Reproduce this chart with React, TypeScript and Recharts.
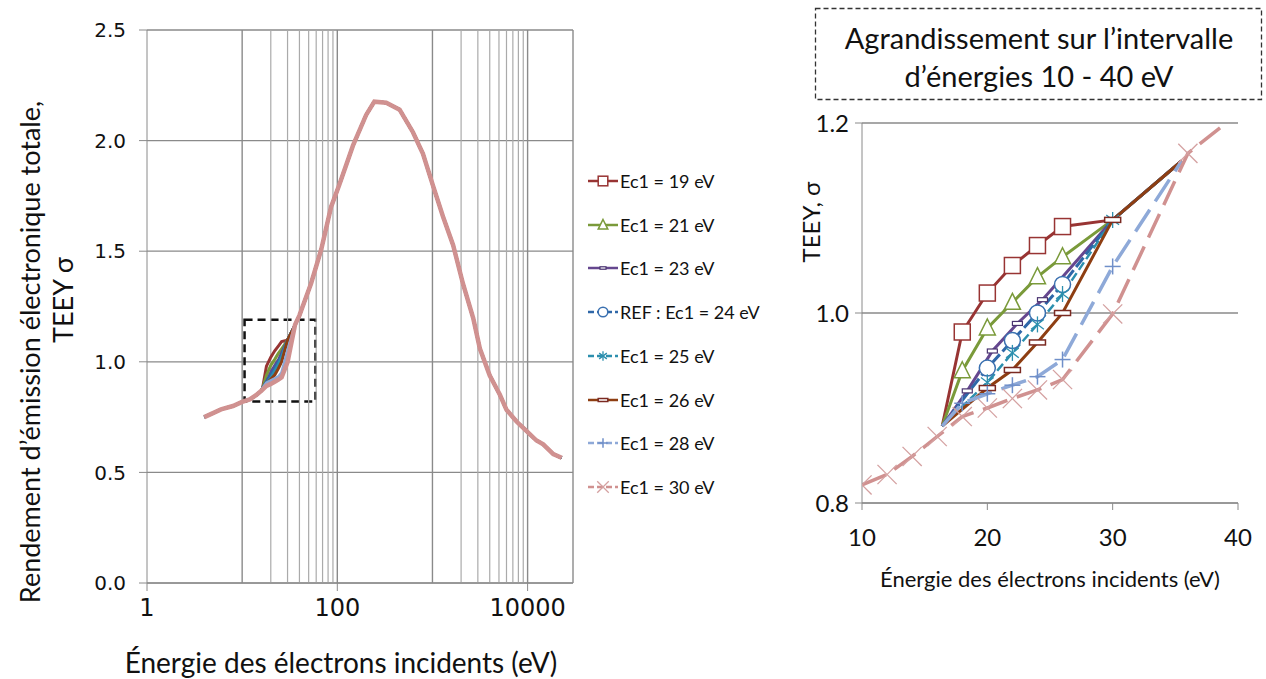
import React from "react";
import {
  LineChart,
  Line,
  XAxis,
  YAxis,
  CartesianGrid,
  ReferenceLine,
  ReferenceArea
} from "recharts";

const FONT = "Lato, 'Open Sans', sans-serif";
const TICK_FONT = "'DejaVu Sans', sans-serif";
const GRID = "#8a8a8a";

// shared curve below the divergence (eV / TEEY)
const LOW_E = [4, 6, 8];
const LOW_Y = [0.75, 0.785, 0.8];

// shared curve above the divergence
const HIGH_E = [40, 45, 53, 68, 86, 105, 146, 201, 245, 327, 452, 624, 795, 1015, 1290, 1650, 2090, 2680, 3150, 4000, 5100, 6000, 7650, 9770, 12400, 14600, 18600, 22800];
const HIGH_Y = [1.21, 1.27, 1.354, 1.51, 1.7, 1.8, 1.977, 2.116, 2.176, 2.171, 2.14, 2.038, 1.94, 1.795, 1.657, 1.527, 1.354, 1.198, 1.06, 0.938, 0.852, 0.783, 0.73, 0.687, 0.644, 0.627, 0.583, 0.566];

// points where the Ec1 curves leave / rejoin each other
const SPLIT_E = 16.4;
const JOIN_E = 35.5;

const E19 = [16.4, 18, 20, 22, 24, 26, 30, 35.5];
const Y19 = [0.881, 0.98, 1.021, 1.05, 1.071, 1.091, 1.098, 1.16];
const E21 = [16.4, 18, 20, 22, 24, 26, 30, 35.5];
const Y21 = [0.881, 0.939, 0.984, 1.011, 1.038, 1.059, 1.098, 1.16];
const E23 = [16.4, 18.4, 20.4, 22.4, 24.4, 30, 35.5];
const Y23 = [0.881, 0.918, 0.96, 0.989, 1.014, 1.098, 1.16];
const E24 = [16.4, 20, 22, 24, 26, 30, 35.5];
const Y24 = [0.881, 0.942, 0.971, 1.0, 1.03, 1.098, 1.16];
const E25 = [16.4, 20, 22, 24, 26, 30, 35.5];
const Y25 = [0.881, 0.927, 0.958, 0.988, 1.02, 1.098, 1.16];
const E26 = [16.4, 20, 22, 24, 26, 30, 35.5];
const Y26 = [0.881, 0.921, 0.94, 0.969, 1.0, 1.098, 1.16];
const E28 = [16.4, 18, 20, 22, 24, 26, 30, 35.5];
const Y28 = [0.881, 0.905, 0.915, 0.924, 0.933, 0.951, 1.049, 1.16];
const E30 = [10, 12, 14, 16, 18, 20, 22, 24, 26, 30, 36];
const Y30 = [0.819, 0.83, 0.849, 0.87, 0.891, 0.9, 0.91, 0.919, 0.93, 0.999, 1.168];

const LEFT_Y_TICKS = [0, 0.5, 1, 1.5, 2, 2.5];
const LEFT_X_TICKS = [1, 100, 10000];
const LEFT_X_MAX = 30000;
const MAJOR_GRID_X = [10, 100, 1000, 10000, LEFT_X_MAX];
const MINOR_GRID_X = [20, 30, 40, 50, 60, 70, 80, 90, 2000, 3000, 4000, 5000, 6000, 7000, 8000, 9000];
const ZOOM_BOX = { x1: 10.6, x2: 59, y1: 0.82, y2: 1.19 };

const INSET_X_TICKS = [10, 20, 30, 40];
const INSET_Y_TICKS = [0.8, 1.0, 1.2];

type Pt = { x: number; y: number };
const pts = (e: number[], y: number[]): Pt[] => e.map((x, i) => ({ x, y: y[i] }));

type Series = {
  name: string;
  e: number[];
  y: number[];
  color: string;
  markColor: string;
  marker: string;
  dash?: string;
  width: number;
  hide30?: boolean;
  base?: boolean;
};

const SERIES: Series[] = [
  { name: "Ec1 = 19 eV", e: E19, y: Y19, color: "#983433", markColor: "#983433", marker: "square", width: 3, hide30: true },
  { name: "Ec1 = 21 eV", e: E21, y: Y21, color: "#7a9a3a", markColor: "#7a9a3a", marker: "triangle", width: 3, hide30: true },
  { name: "Ec1 = 23 eV", e: E23, y: Y23, color: "#65478f", markColor: "#4a3470", marker: "dash", width: 3, hide30: true },
  { name: "REF : Ec1 = 24 eV", e: E24, y: Y24, color: "#2f67a8", markColor: "#3a70b0", marker: "circle", dash: "12 4", width: 3, hide30: true },
  { name: "Ec1 = 25 eV", e: E25, y: Y25, color: "#2c8fae", markColor: "#2c8fae", marker: "star", dash: "9 4", width: 2.5 },
  { name: "Ec1 = 26 eV", e: E26, y: Y26, color: "#8e3e12", markColor: "#7b2a22", marker: "bar", width: 3 },
  { name: "Ec1 = 28 eV", e: E28, y: Y28, color: "#8ea9d8", markColor: "#6f8fc9", marker: "plus", dash: "26 10", width: 3.5 },
  { name: "Ec1 = 30 eV", e: E30, y: Y30, color: "#d09190", markColor: "#d4a0a0", marker: "cross", dash: "26 10", width: 3.5, base: true }
];

const lowPart = (): Pt[] => [...pts(LOW_E, LOW_Y), ...pts(E30, Y30).filter((p) => p.x < SPLIT_E)];
const leftData = (s: Series): Pt[] =>
  s.base
    ? [...pts(LOW_E, LOW_Y), ...pts(s.e, s.y), ...pts(HIGH_E, HIGH_Y)]
    : [...lowPart(), ...pts(s.e, s.y), ...pts(HIGH_E, HIGH_Y)];
const insetData = (s: Series): Pt[] =>
  s.base ? [...pts(s.e, s.y), ...pts(HIGH_E, HIGH_Y).filter((p) => p.x <= 45)] : pts(s.e, s.y);

function drawMarker(kind: string, cx: number, cy: number, color: string, k: number) {
  const r = 8 * k;
  switch (kind) {
    case "square":
      return <rect x={cx - r} y={cy - r} width={2 * r} height={2 * r} fill="#fff" stroke={color} strokeWidth={1.5} />;
    case "triangle":
      return (
        <polygon
          points={`${cx},${cy - r * 1.15} ${cx + r},${cy + r * 0.85} ${cx - r},${cy + r * 0.85}`}
          fill="#fff"
          stroke={color}
          strokeWidth={1.5}
        />
      );
    case "dash":
      return <rect x={cx - 5 * k} y={cy - 2 * k} width={10 * k} height={4 * k} fill="#fff" stroke={color} strokeWidth={1.2} />;
    case "circle":
      return <circle cx={cx} cy={cy} r={r} fill="#fff" stroke={color} strokeWidth={1.5} />;
    case "bar":
      return <rect x={cx - 8 * k} y={cy - 2.5 * k} width={16 * k} height={5 * k} fill="#fff" stroke={color} strokeWidth={1.5} />;
    case "star":
      return (
        <g stroke={color} strokeWidth={1.3}>
          <line x1={cx} y1={cy - r} x2={cx} y2={cy + r} />
          <line x1={cx - r * 0.8} y1={cy - r * 0.6} x2={cx + r * 0.8} y2={cy + r * 0.6} />
          <line x1={cx - r * 0.8} y1={cy + r * 0.6} x2={cx + r * 0.8} y2={cy - r * 0.6} />
        </g>
      );
    case "plus":
      return (
        <g stroke={color} strokeWidth={1.5}>
          <line x1={cx} y1={cy - r} x2={cx} y2={cy + r} />
          <line x1={cx - r} y1={cy} x2={cx + r} y2={cy} />
        </g>
      );
    case "cross":
      return (
        <g stroke={color} strokeWidth={1.3}>
          <line x1={cx - r * 1.2} y1={cy - r * 1.2} x2={cx + r * 1.2} y2={cy + r * 1.2} />
          <line x1={cx - r * 1.2} y1={cy + r * 1.2} x2={cx + r * 1.2} y2={cy - r * 1.2} />
        </g>
      );
    default:
      return null;
  }
}

const dotFor = (s: Series) => (props: any) => {
  const { cx, cy, index, payload } = props;
  const key = `${s.name}-${index}`;
  const x = payload ? payload.x : 0;
  const hidden =
    cx == null ||
    cy == null ||
    (!s.base && (x === SPLIT_E || x === JOIN_E)) ||
    (s.hide30 && x === 30);
  if (hidden) return <g key={key} />;
  return <g key={key}>{drawMarker(s.marker, cx, cy, s.markColor, 1)}</g>;
};

const rotated = (left: number, top: number, size: number, text: string) => (
  <div
    style={{
      position: "absolute",
      left,
      top,
      transform: "translate(-50%, -50%) rotate(-90deg)",
      whiteSpace: "nowrap",
      fontFamily: FONT,
      fontSize: size,
      color: "#111"
    }}
  >
    {text}
  </div>
);

const centered = (left: number, top: number, size: number, text: string) => (
  <div
    style={{
      position: "absolute",
      left,
      top,
      transform: "translate(-50%, -50%)",
      whiteSpace: "nowrap",
      fontFamily: FONT,
      fontSize: size,
      color: "#111"
    }}
  >
    {text}
  </div>
);

export default function App() {
  return (
    <div style={{ position: "absolute", left: 0, top: 0, width: 1266, height: 679, background: "#fff", overflow: "hidden" }}>
      <div style={{ position: "absolute", left: 0, top: 0 }}>
        <LineChart width={600} height={679} margin={{ top: 30, right: 27, bottom: 0, left: 0 }}>
          <CartesianGrid vertical={false} stroke={GRID} strokeWidth={1.3} />
          {MINOR_GRID_X.map((v) => (
            <ReferenceLine key={`mi${v}`} x={v} stroke="#aaaaaa" strokeWidth={1.2} />
          ))}
          {MAJOR_GRID_X.map((v) => (
            <ReferenceLine key={`ma${v}`} x={v} stroke={GRID} strokeWidth={1.4} />
          ))}
          <XAxis
            type="number"
            dataKey="x"
            scale="log"
            domain={[1, LEFT_X_MAX]}
            ticks={LEFT_X_TICKS}
            allowDataOverflow
            height={96}
            tickSize={8}
            tickMargin={8}
            stroke={GRID}
            tick={{ fill: "#111", fontSize: 24, fontFamily: TICK_FONT }}
          />
          <YAxis
            type="number"
            dataKey="y"
            domain={[0, 2.5]}
            ticks={LEFT_Y_TICKS}
            width={147}
            tickSize={8}
            tickMargin={13}
            stroke={GRID}
            tickFormatter={(v: number) => v.toFixed(1)}
            tick={{ fill: "#111", fontSize: 20, fontFamily: TICK_FONT }}
          />
          <ReferenceArea
            x1={ZOOM_BOX.x1}
            x2={ZOOM_BOX.x2}
            y1={ZOOM_BOX.y1}
            y2={ZOOM_BOX.y2}
            fill="none"
            fillOpacity={0}
            stroke="#111"
            strokeWidth={2.5}
            strokeDasharray="8 5"
          />
          {SERIES.map((s) => (
            <Line
              key={s.name}
              data={leftData(s)}
              dataKey="y"
              type="linear"
              stroke={s.color}
              strokeWidth={s.base ? 4.5 : 3}
              dot={false}
              isAnimationActive={false}
            />
          ))}
        </LineChart>
      </div>

      {rotated(29, 352, 27, "Rendement d’émission électronique totale,")}
      {rotated(62, 300, 27, "TEEY σ")}
      {centered(341, 662, 28, "Énergie des électrons incidents (eV)")}

      {/* legend */}
      <div style={{ position: "absolute", left: 586, top: 0 }}>
        {SERIES.map((s, i) => (
          <div
            key={s.name}
            style={{ position: "absolute", left: 0, top: 181 + 43.7 * i - 11, height: 22, display: "flex", alignItems: "center", whiteSpace: "nowrap" }}
          >
            <svg width={34} height={22} style={{ display: "block" }}>
              <line x1={2} y1={11} x2={32} y2={11} stroke={s.color} strokeWidth={2.5} strokeDasharray={s.dash ? "6 3" : undefined} />
              {drawMarker(s.marker, 17, 11, s.markColor, 0.6)}
            </svg>
            <span style={{ fontFamily: FONT, fontSize: 18, color: "#111", marginLeft: 0 }}>{s.name}</span>
          </div>
        ))}
      </div>

      {/* inset title box */}
      <svg width={1266} height={679} style={{ position: "absolute", left: 0, top: 0, pointerEvents: "none" }}>
        <rect x={815.5} y={8.5} width={446} height={91} fill="none" stroke="#333" strokeWidth={1.3} strokeDasharray="5 3" />
      </svg>
      {centered(1039, 37, 29, "Agrandissement sur l’intervalle")}
      {centered(1039, 75, 29, "d’énergies 10 - 40 eV")}

      <div style={{ position: "absolute", left: 790, top: 100 }}>
        <LineChart width={476} height={500} margin={{ top: 23, right: 28, bottom: 0, left: 0 }}>
          <CartesianGrid vertical={false} stroke={GRID} strokeWidth={1.3} />
          <XAxis
            type="number"
            dataKey="x"
            domain={[10, 40]}
            ticks={INSET_X_TICKS}
            allowDataOverflow
            height={97}
            tickSize={7}
            tickMargin={19}
            stroke={GRID}
            tick={{ fill: "#111", fontSize: 24, fontFamily: FONT }}
          />
          <YAxis
            type="number"
            dataKey="y"
            domain={[0.8, 1.2]}
            ticks={INSET_Y_TICKS}
            allowDataOverflow
            width={72}
            tickSize={7}
            tickMargin={6}
            stroke={GRID}
            tickFormatter={(v: number) => v.toFixed(1)}
            tick={{ fill: "#111", fontSize: 24, fontFamily: FONT }}
          />
          {SERIES.map((s) => (
            <Line
              key={s.name}
              data={insetData(s)}
              dataKey="y"
              type="linear"
              stroke={s.color}
              strokeWidth={s.width}
              strokeDasharray={s.dash}
              dot={dotFor(s)}
              isAnimationActive={false}
            />
          ))}
        </LineChart>
      </div>

      {rotated(810, 222, 24, "TEEY, σ")}
      {centered(1050, 578, 22, "Énergie des électrons incidents (eV)")}
    </div>
  );
}
